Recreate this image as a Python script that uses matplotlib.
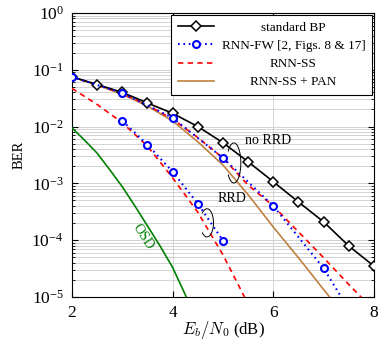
import matplotlib
matplotlib.use('Agg')
import matplotlib.pyplot as plt
from matplotlib.patches import Arc

plt.rcParams['font.family'] = ['Liberation Serif', 'DejaVu Serif']
plt.rcParams['mathtext.fontset'] = 'cm'

# standard BP
bp_snr = [2, 2.5, 3, 3.5, 4, 4.5, 5, 5.5, 6, 6.5, 7, 7.5, 8]
bp_ber = [0.075, 0.055, 0.040, 0.026, 0.0171, 0.010, 0.0052, 0.0024,
          0.00107, 0.00047, 0.00021, 7.9e-5, 3.5e-5]

# RNN-FW, without and with RRD
fw_snr = [2, 3, 4, 5, 6, 7, 7.5]
fw_ber = [0.075, 0.039, 0.0142, 0.0028, 4.0e-4, 3.2e-5, 6e-6]
fw_rrd_snr = [3, 3.5, 4, 4.5, 5]
fw_rrd_ber = [0.0126, 0.0048, 0.0016, 4.4e-4, 9.8e-5]

# RNN-SS, without and with RRD
ss_snr = [2, 2.5, 3, 3.5, 4, 4.5, 5, 5.5, 6, 6.5, 7, 7.5, 8]
ss_ber = [0.075, 0.054, 0.038, 0.024, 0.0135, 0.0064, 0.0028, 9.3e-4,
          4.0e-4, 1.4e-4, 4.9e-5, 1.66e-5, 5.8e-6]
ss_rrd_snr = [2, 2.5, 3, 3.5, 4, 4.5, 5, 5.5]
ss_rrd_ber = [0.047, 0.0245, 0.0117, 0.0045, 0.00125, 3.1e-4, 5.5e-5, 7.5e-6]

# RNN-SS + PAN
pan_snr = [2, 2.5, 3, 3.5, 4, 4.5, 5, 5.5, 6, 6.5, 7, 7.5]
pan_ber = [0.075, 0.054, 0.037, 0.023, 0.0125, 0.0054, 0.0021, 6.3e-4,
           1.7e-4, 4.9e-5, 1.35e-5, 3.8e-6]

# OSD
osd_snr = [2, 2.25, 2.5, 2.75, 3, 3.25, 3.5, 3.75, 4, 4.25, 4.5]
osd_ber = [9.5e-3, 5.75e-3, 3.4e-3, 1.74e-3, 8.7e-4, 4.0e-4, 1.78e-4,
           7.9e-5, 3.3e-5, 1.1e-5, 3.5e-6]

blue = '#0000ff'
red = '#ff0000'
brown = '#bf8040'
green = '#008000'

fig = plt.figure(figsize=(3.85, 3.48), dpi=100)
ax = fig.add_axes([0.187, 0.1466, 0.7844, 0.8161])

ax.plot(bp_snr, bp_ber, '-', color='black', lw=1.2, marker='D', ms=4.6,
        mfc='white', mec='black', mew=1.1, label='standard BP', zorder=5)
ax.plot(fw_snr, fw_ber, color=blue, lw=1.5, dashes=(0.8, 1.8), marker='o',
        ms=5, mfc='white', mec=blue, mew=1.5, label='RNN-FW [2, Figs. 8 & 17]', zorder=6)
ax.plot(fw_rrd_snr, fw_rrd_ber, color=blue, lw=1.5, dashes=(0.8, 1.8), marker='o',
        ms=5, mfc='white', mec=blue, mew=1.5, zorder=6)
ax.plot(ss_snr, ss_ber, color=red, lw=1.2, dashes=(3.2, 2.6), label='RNN-SS', zorder=4)
ax.plot(ss_rrd_snr, ss_rrd_ber, color=red, lw=1.2, dashes=(3.2, 2.6), zorder=4)
ax.plot(pan_snr, pan_ber, color=brown, lw=1.2, label='RNN-SS + PAN', zorder=3)
ax.plot(osd_snr, osd_ber, color=green, lw=1.2, zorder=3)

ax.set_yscale('log')
ax.set_xlim(2, 8)
ax.set_ylim(1e-5, 1)
ax.set_xticks([2, 4, 6, 8])
ax.tick_params(which='both', direction='in', top=True, right=True, labelsize=12.5)
ax.tick_params(which='major', length=4, pad=6)
ax.tick_params(which='minor', length=2)
ax.grid(True, axis='x', which='major', color='#d0d0d0', lw=0.6)
ax.grid(True, axis='y', which='both', color='#cccccc', lw=0.6)
ax.set_axisbelow(True)
for s in ax.spines.values():
    s.set_linewidth(0.8)

ax.set_xlabel('$E_b/N_0$ (dB)', fontsize=12, labelpad=-2)
ax.set_ylabel('BER', fontsize=10.5, labelpad=4)

# annotations
ax.text(5.9, 5.8e-3, 'no RRD', fontsize=10, ha='center', va='center')
ax.text(5.17, 5.5e-4, 'RRD', fontsize=10, ha='center', va='center')
ax.text(3.4, 1.15e-4, 'OSD', fontsize=10, color=green, rotation=-57,
        ha='center', va='center')
ax.add_patch(Arc((0.536, 0.472), 0.046, 0.141, theta1=-115, theta2=115,
                 transform=ax.transAxes, color='black', lw=0.7, zorder=7))
ax.add_patch(Arc((0.447, 0.261), 0.043, 0.099, theta1=-115, theta2=115,
                 transform=ax.transAxes, color='black', lw=0.7, zorder=7))

leg = ax.legend(loc='upper right', bbox_to_anchor=(0.993, 0.993), fontsize=9.5,
                handlelength=2.7, handletextpad=0.6, labelspacing=0.45,
                borderpad=0.5, borderaxespad=0,
                fancybox=False, edgecolor='black', framealpha=1)
leg.get_frame().set_linewidth(0.8)

# center the legend entries like pgfplots does
fig.canvas.draw()
r = fig.canvas.get_renderer()
texts = leg.get_texts()
widths = [t.get_window_extent(r).width for t in texts]
for t, w in zip(texts, widths):
    t.set_x((max(widths) - w) / 2)

fig.savefig('out.png', dpi=100)
